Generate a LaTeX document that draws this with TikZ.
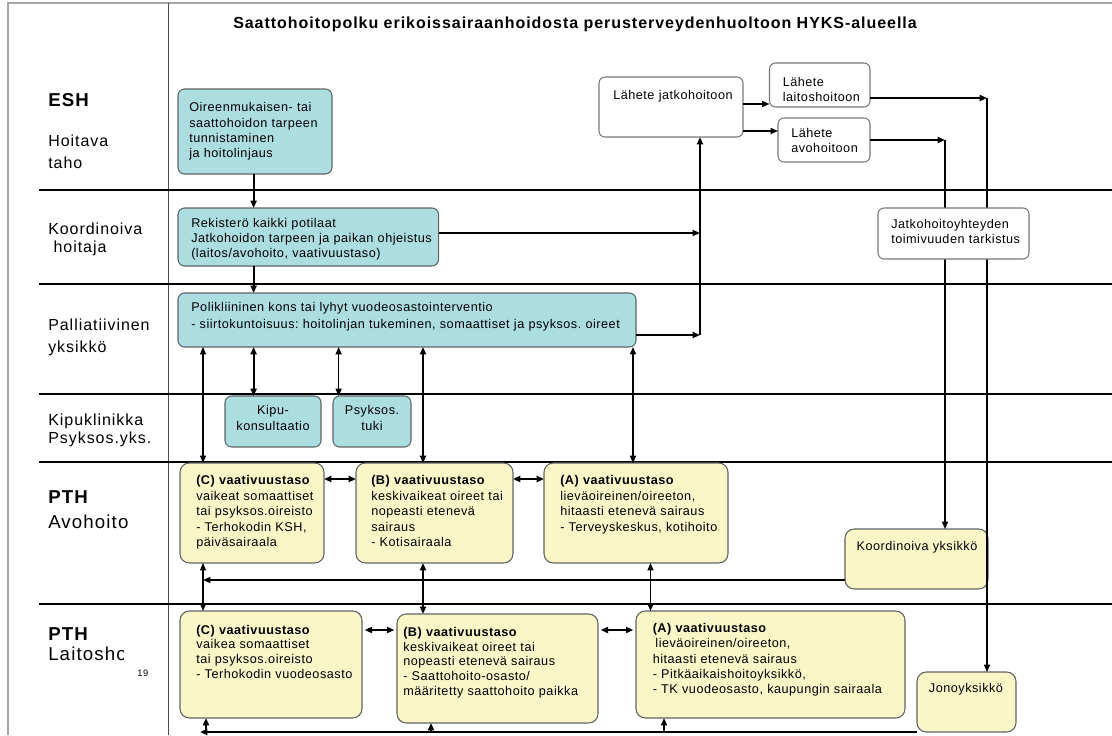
\documentclass[tikz,border=0pt]{standalone}
\usepackage{fontspec}
\setmainfont{Liberation Sans}[LetterSpace=6]
\newfontfamily\bxfam{Liberation Sans}[LetterSpace=4]
\usetikzlibrary{arrows.meta}
\definecolor{tealfill}{RGB}{172,221,225}
\definecolor{yelfill}{RGB}{250,246,200}
\definecolor{bdr}{RGB}{95,100,100}
\definecolor{wbdr}{RGB}{120,120,120}
\definecolor{framec}{RGB}{165,165,165}
\frenchspacing
\begin{document}
\begin{tikzpicture}[x=0.75pt,y=-0.75pt,
  >={Triangle[length=5.5pt,width=4.5pt]},
  bx/.style n args={4}{anchor=north west, minimum width={(#3-#1)*0.75pt}, minimum height={(#4-#2)*0.75pt}, inner sep=0pt, outer sep=0pt},
  tbox/.style={draw=bdr, fill=tealfill, line width=0.8pt, rounded corners=5pt},
  ybox/.style={draw=bdr, fill=yelfill, line width=0.8pt, rounded corners=7pt},
  wbox/.style={draw=wbdr, fill=white, line width=0.8pt, rounded corners=4.5pt},
  tx/.style={anchor=base west, inner sep=0pt, text width=400pt, align=left},
  ctx/.style={anchor=base, inner sep=0pt, text width=150pt, align=center},
  lbl/.style={anchor=base west, inner sep=0pt, text width=120pt, align=left},
  lane/.style={line width=0.8pt},
  thk/.style={line width=1.6pt},
  med/.style={line width=1.1pt},
  thn/.style={line width=0.8pt}
]
\useasboundingbox (0,0) rectangle (1112,735);
% frame and lanes
\draw[framec, line width=1.2pt] (8,735) -- (8,3) -- (1112,3);
\draw[black!70, line width=0.9pt] (168.5,3) -- (168.5,735);
\draw[lane] (38.6,190) -- (1112,190);
\draw[lane] (38.6,284) -- (1112,284);
\draw[lane] (38.6,394) -- (1112,394);
\draw[line width=1.5pt] (38.6,462) -- (1112,462);
\draw[lane] (38.6,604) -- (1112,604);

% title
\node[font=\fontsize{12}{14}\selectfont\bfseries, inner sep=0pt] (title) at (575,24) {Saattohoitopolku erikoissairaanhoidosta perusterveydenhuoltoon HYKS-alueella};

% left labels
\node[lbl, font=\fontsize{14}{17}\selectfont\bfseries] (l-esh) at (48,106.7) {ESH};
\node[lbl, font=\fontsize{12}{16}\selectfont] (l-hoit) at (48,146.7) {Hoitava\\taho};
\node[lbl, font=\fontsize{12}{13.8}\selectfont] (l-koord) at (48,234) {Koordinoiva\\\ hoitaja};
\node[lbl, font=\fontsize{12}{16.3}\selectfont] (l-pall) at (48,330.7) {Palliatiivinen\\yksikkö};
\node[lbl, font=\fontsize{12}{13.5}\selectfont] (l-kipu) at (48,425.7) {Kipuklinikka\\Psyksos.yks.};
\node[lbl, font=\fontsize{14}{18.75}\selectfont] (l-pth1) at (48,503.4) {\textbf{PTH}\\Avohoito};
\node[lbl, font=\fontsize{14}{15}\selectfont] (l-pth2) at (48,640) {\textbf{PTH}\\Laitoshoito};
\fill[white] (123.5,643) rectangle (166,665);
\node[anchor=base west, inner sep=0pt, font=\fontsize{7}{8}\selectfont] (l-19) at (137,676) {19};

% boxes
\node[tbox, bx={178}{89}{332}{174}] (esh) at (178,89) {};
\node[tbox, bx={178}{208}{438.6}{266}] (koord) at (178,208) {};
\node[tbox, bx={178}{293}{636}{347}] (palli) at (178,293) {};
\node[tbox, bx={225}{396}{321}{447}] (kipu) at (225,396) {};
\node[tbox, bx={333}{396}{411}{447}] (psyk) at (333,396) {};
\node[wbox, bx={599}{77}{743}{137}] (jatko) at (599,77) {};
\node[wbox, bx={769.5}{63}{870}{107}] (laitosL) at (769.5,63) {};
\node[wbox, bx={778}{118}{870}{162}] (avoL) at (778,118) {};
\node[ybox, bx={180}{463}{324}{563}] (Ca) at (180,463) {};
\node[ybox, bx={356}{463}{513}{563}] (Ba) at (356,463) {};
\node[ybox, bx={544}{463}{728}{563}] (Aa) at (544,463) {};
\node[ybox, bx={845}{529}{988}{589}] (ky) at (845,529) {};
\node[ybox, bx={180}{611}{362}{718}] (Cl) at (180,611) {};
\node[ybox, bx={397}{614}{598}{723}] (Bl) at (397,614) {};
\node[ybox, bx={636}{611}{905}{718}] (Al) at (636,611) {};
\node[ybox, bx={917}{672}{1016}{732}] (jono) at (917,672) {};

% box texts
\node[tx, font=\bxfam\fontsize{9.5}{11.55}\selectfont] (esh-t) at (189,111.6) {Oireenmukaisen- tai\\saattohoidon tarpeen\\tunnistaminen\\ja hoitolinjaus};
\node[tx, font=\bxfam\fontsize{9.5}{11.25}\selectfont] (koord-t) at (191,227.6) {Rekisterö kaikki potilaat\\Jatkohoidon tarpeen ja paikan ohjeistus\\(laitos/avohoito, vaativuustaso)};
\node[tx, font=\bxfam\fontsize{9.5}{12.75}\selectfont] (palli-t) at (191,311.6) {Polikliininen kons tai lyhyt vuodeosastointerventio\\- siirtokuntoisuus: hoitolinjan tukeminen, somaattiset ja psyksos. oireet};
\node[ctx, font=\bxfam\fontsize{9.5}{12}\selectfont] (kipu-t) at (273,414.6) {Kipu-\\konsultaatio};
\node[ctx, font=\bxfam\fontsize{9.5}{12}\selectfont] (psyk-t) at (372,414.6) {Psyksos.\\tuki};
\node[tx, font=\bxfam\fontsize{9.5}{11.25}\selectfont] (jatko-t) at (613,99.6) {Lähete jatkohoitoon};
\node[tx, font=\bxfam\fontsize{9.5}{11.25}\selectfont] (laitosL-t) at (782.5,86.6) {Lähete\\laitoshoitoon};
\node[tx, font=\bxfam\fontsize{9.5}{11.25}\selectfont] (avoL-t) at (791,137.6) {Lähete\\avohoitoon};
\node[tx, font=\bxfam\fontsize{9.5}{11.6}\selectfont] (Ca-t) at (196,484.6) {\textbf{(C) vaativuustaso}\\vaikeat somaattiset\\tai psyksos.oireisto\\- Terhokodin KSH,\\päiväsairaala};
\node[tx, font=\bxfam\fontsize{9.5}{11.6}\selectfont] (Ba-t) at (371,484.6) {\textbf{(B) vaativuustaso}\\keskivaikeat oireet tai\\nopeasti etenevä\\sairaus\\- Kotisairaala};
\node[tx, font=\bxfam\fontsize{9.5}{11.6}\selectfont] (Aa-t) at (560,484.6) {\textbf{(A) vaativuustaso}\\lieväoireinen/oireeton,\\hitaasti etenevä sairaus\\- Terveyskeskus, kotihoito};
\node[ctx, font=\bxfam\fontsize{9.5}{11.6}\selectfont] (ky-t) at (917,550.6) {Koordinoiva yksikkö};
\node[tx, font=\bxfam\fontsize{9.5}{11}\selectfont] (Cl-t) at (196,634) {\textbf{(C) vaativuustaso}\\vaikea somaattiset\\tai psyksos.oireisto\\- Terhokodin vuodeosasto};
\node[tx, font=\bxfam\fontsize{9.5}{11}\selectfont] (Bl-t) at (403,636.6) {\textbf{(B) vaativuustaso}\\keskivaikeat oireet tai\\nopeasti etenevä sairaus\\- Saattohoito-osasto/\\määritetty saattohoito paikka};
\node[tx, font=\bxfam\fontsize{9.5}{11.4}\selectfont] (Al-t) at (652.5,632.6) {\textbf{(A) vaativuustaso}\\\hspace{2pt}lieväoireinen/oireeton,\\hitaasti etenevä sairaus\\- Pitkäaikaishoitoyksikkö,\\- TK vuodeosasto, kaupungin sairaala};
\node[ctx, font=\bxfam\fontsize{9.5}{11.6}\selectfont] (jono-t) at (966,692.6) {Jonoyksikkö};

% helper coordinates
\coordinate (c203) at (203,0);
\coordinate (c206) at (206,0);
\coordinate (c253) at (253.6,0);
\coordinate (c338) at (338.6,0);
\coordinate (c423) at (423,0);
\coordinate (c431) at (431,0);
\coordinate (c633) at (633,0);
\coordinate (c650) at (650.5,0);
\coordinate (c664) at (664,0);
\coordinate (c700) at (700,0);
\coordinate (c945) at (945,0);
\coordinate (c987) at (987,0);
\coordinate (h98) at (0,98);
\coordinate (h104) at (0,104);
\coordinate (h131) at (0,131);
\coordinate (h140) at (0,140);
\coordinate (h233) at (0,233);
\coordinate (h335) at (0,335);
\coordinate (h479) at (0,479);
\coordinate (h580) at (0,580);
\coordinate (h630) at (0,630);
\coordinate (h732) at (0,732);

% connectors
\draw[thk,->] (c253 |- esh.south) -- (c253 |- koord.north);
\draw[thk,->] (c253 |- koord.south) -- (c253 |- palli.north);
\draw[thk,<->] (c253 |- palli.south) -- (c253 |- kipu.north);
\draw[med,<->] (c338 |- palli.south) -- (c338 |- psyk.north);
\draw[thn,<->] (c203 |- palli.south) -- (c203 |- Ca.north);
\draw[thk,<->] (c423 |- palli.south) -- (c423 |- Ba.north);
\draw[med,<->] (c633 |- palli.south) -- (c633 |- Aa.north);

\draw[med,->] (koord.east |- h233) -- (c700 |- h233);
\draw[thk,->] (palli.east |- h335) -- (c700 |- h335);
\draw[thk,->] (c700 |- h335) -- (c700 |- jatko.south);
\draw[med,->] (jatko.east |- h104) -- (laitosL.west |- h104);
\draw[med,->] (jatko.east |- h131) -- (avoL.west |- h131);
\draw[thk,->] (laitosL.east |- h98) -- (c987 |- h98);
\draw[thn,->] (c987 |- h98) -- (c987 |- jono.north);
\draw[thk,->] (avoL.east |- h140) -- (c945 |- h140);
\draw[med,->] (c945 |- h140) -- (c945 |- ky.north);

\draw[thk,<->] (Ca.east |- h479) -- (Ba.west |- h479);
\draw[thk,<->] (Ba.east |- h479) -- (Aa.west |- h479);
\draw[med,->] (ky.west |- h580) -- (c203 |- h580);
\draw[thn,<->] (c203 |- Ca.south) -- (c203 |- Cl.north);
\draw[thk,<->] (c423 |- Ba.south) -- (c423 |- Bl.north);
\draw[med,<->] (c650 |- Aa.south) -- (c650 |- Al.north);

\draw[thk,<->, shorten <=2pt, shorten >=2pt] (Cl.east |- h630) -- (Bl.west |- h630);
\draw[thk,<->, shorten <=2pt, shorten >=2pt] (Bl.east |- h630) -- (Al.west |- h630);

\draw[line width=2.2pt,->] (jono.west |- h732) -- (200,732);
\draw[thk,->] (c206 |- h732) -- (c206 |- Cl.south);
\draw[thk,->] (c431 |- h732) -- (c431 |- Bl.south);
\draw[thk,->] (c664 |- h732) -- (c664 |- Al.south);

% box drawn over the right-hand lines
\node[wbox, bx={878}{208}{1029}{259}] (jth) at (878,208) {};
\node[tx, font=\bxfam\fontsize{9.5}{11.25}\selectfont] (jth-t) at (891,228.6) {Jatkohoitoyhteyden\\toimivuuden tarkistus};
\end{tikzpicture}
\end{document}
